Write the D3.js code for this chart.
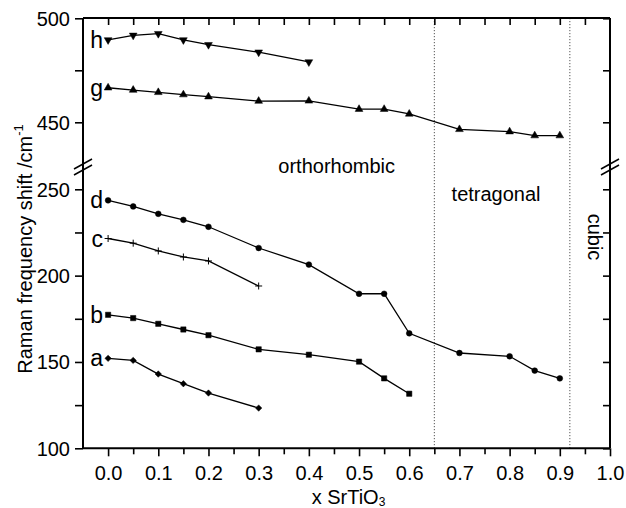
<!DOCTYPE html>
<html><head><meta charset="utf-8">
<script src="https://cdn.jsdelivr.net/npm/d3@7"></script>
<style>
body{margin:0;background:#fff;}
text{font-family:"Liberation Sans",Arial,Helvetica,sans-serif;fill:#000;}
</style></head>
<body><svg id="c" width="626" height="508"></svg>
<script>
// ---- data ----
const xA = [0, 0.05, 0.1, 0.15, 0.2, 0.3];
const yA = [152.1, 150.9, 143.0, 137.4, 132.0, 123.3];
const xB = [0, 0.05, 0.1, 0.15, 0.2, 0.3, 0.4, 0.5, 0.55, 0.6];
const yB = [177.3, 175.4, 172.1, 168.8, 165.5, 157.3, 154.2, 150.2, 140.5, 131.6];
const xC = [0, 0.05, 0.1, 0.15, 0.2, 0.3];
const yC = [221.5, 218.8, 214.3, 210.8, 208.5, 194.0];
const xD = [0, 0.05, 0.1, 0.15, 0.2, 0.3, 0.4, 0.5, 0.55, 0.6, 0.7, 0.8, 0.85, 0.9];
const yD = [243.6, 240.1, 235.8, 232.3, 228.3, 216.0, 206.4, 189.5, 189.5, 166.6, 155.2, 153.3, 145.0, 140.5];
const xG = [0, 0.05, 0.1, 0.15, 0.2, 0.3, 0.4, 0.5, 0.55, 0.6, 0.7, 0.8, 0.85, 0.9];
const yG = [466.6, 465.5, 464.4, 463.3, 462.3, 460.2, 460.3, 456.3, 456.3, 454.0, 446.6, 445.5, 443.6, 443.6];
const xH = [0, 0.05, 0.1, 0.15, 0.2, 0.3, 0.4];
const yH = [489.6, 491.8, 492.6, 489.6, 487.3, 483.7, 479.0];
const seriesNames = ["a", "b", "c", "d", "g", "h"];
const xTickLabels = ["0.0","0.1","0.2","0.3","0.4","0.5","0.6","0.7","0.8","0.9","1.0"];
const yLowTicks = [100, 150, 200, 250];
const yHighTicks = [450, 500];
const phaseBounds = [0.65, 0.92];
const phaseNames = ["orthorhombic", "tetragonal", "cubic"];

// ---- layout ----
const svg = d3.select("#c");
const L = 83, R = 610, T = 18, B = 448.3;
const x = d3.scaleLinear().domain([-0.05, 1.0]).range([L, R]);
const yLow = d3.scaleLinear().domain([100, 250]).range([448.3, 189.3]);
const yHigh = d3.scaleLinear().domain([450, 500]).range([122.3, 18.3]);
const breakY = 167;

const series = [
  {name: seriesNames[0], xs: xA, ys: yA, y: yLow, sym: "diamond"},
  {name: seriesNames[1], xs: xB, ys: yB, y: yLow, sym: "square"},
  {name: seriesNames[2], xs: xC, ys: yC, y: yLow, sym: "plus"},
  {name: seriesNames[3], xs: xD, ys: yD, y: yLow, sym: "circle"},
  {name: seriesNames[4], xs: xG, ys: yG, y: yHigh, sym: "up"},
  {name: seriesNames[5], xs: xH, ys: yH, y: yHigh, sym: "down"},
];

// phase boundaries (dotted)
svg.selectAll("line.phase").data(phaseBounds).join("line")
  .attr("x1", d => x(d)).attr("x2", d => x(d)).attr("y1", T).attr("y2", B)
  .attr("stroke", "#555").attr("stroke-width", 1).attr("stroke-dasharray", "1.2,1.8");

// axes
const ax = svg.append("g");
const xMinor = d3.range(0, 21).map(i => i * 0.05);
const bottomAxis = d3.axisBottom(x).tickValues(xMinor).tickSize(7).tickFormat((d, i) => i % 2 === 0 ? xTickLabels[i / 2] : "");
const gB = ax.append("g").attr("transform", `translate(0,${B})`).call(bottomAxis);
gB.selectAll(".tick line").attr("y2", (d, i) => i % 2 === 0 ? 8 : 6);
gB.selectAll("text").attr("font-size", 20).attr("dy", null).attr("y", 32);
const topAxis = d3.axisTop(x).tickValues(xMinor.filter(d => d < 0.99)).tickSize(-7).tickFormat("");
ax.append("g").attr("transform", `translate(0,${T})`).call(topAxis);

const leftLow = d3.axisLeft(yLow).tickValues(d3.range(100, 251, 25)).tickSize(8)
  .tickFormat(d => yLowTicks.includes(d) ? d : "");
const gLL = ax.append("g").attr("transform", `translate(${L},0)`).call(leftLow);
const leftHigh = d3.axisLeft(yHigh).tickValues([450, 475, 500]).tickSize(8)
  .tickFormat(d => yHighTicks.includes(d) ? d : "");
const gLH = ax.append("g").attr("transform", `translate(${L},0)`).call(leftHigh);
[gLL, gLH].forEach(g => {
  g.selectAll("text").attr("font-size", 20).attr("x", -13).attr("dy", "0.35em");
});
const rightLow = d3.axisRight(yLow).tickValues(d3.range(100, 251, 25)).tickSize(-7).tickFormat("");
ax.append("g").attr("transform", `translate(${R},0)`).call(rightLow);
const rightHigh = d3.axisRight(yHigh).tickValues([450, 475, 500]).tickSize(-7).tickFormat("");
ax.append("g").attr("transform", `translate(${R},0)`).call(rightHigh);

ax.selectAll(".domain").remove();
ax.selectAll(".tick line").attr("stroke", "#000").attr("stroke-width", 1.6);

// frame lines
const frame = svg.append("g").attr("stroke", "#000").attr("stroke-width", 2).attr("fill", "none");
frame.append("line").attr("x1", L).attr("x2", R).attr("y1", B).attr("y2", B);
frame.append("line").attr("x1", L).attr("x2", R).attr("y1", T).attr("y2", T);
frame.append("line").attr("x1", L).attr("x2", L).attr("y1", T).attr("y2", B);
frame.append("line").attr("x1", R).attr("x2", R).attr("y1", T).attr("y2", B);
[L, R].forEach(bx => {
  [-3, 3].forEach(off => {
    frame.append("line").attr("x1", bx - 9).attr("y1", breakY + off + 5)
      .attr("x2", bx + 9).attr("y2", breakY + off - 5).attr("stroke-width", 1.5);
  });
});

// series
const symPath = {
  circle: d3.symbol(d3.symbolCircle, 26)(),
  square: d3.symbol(d3.symbolSquare, 28)(),
  diamond: d3.symbol(d3.symbolDiamond2, 26)(),
  up: d3.symbol(d3.symbolTriangle, 26)(),
  down: d3.symbol(d3.symbolTriangle, 26)(),
  plus: "M-3.5,0H3.5M0,-3.5V3.5"
};
series.forEach(s => {
  const pts = s.xs.map((xv, i) => [x(xv), s.y(s.ys[i])]);
  svg.append("path").attr("d", d3.line()(pts)).attr("fill", "none")
    .attr("stroke", "#000").attr("stroke-width", 1.3);
  svg.append("g").selectAll("path").data(pts).join("path")
    .attr("d", symPath[s.sym])
    .attr("transform", d => `translate(${d[0]},${d[1]})` + (s.sym === "down" ? " rotate(180)" : ""))
    .attr("fill", s.sym === "plus" ? "none" : "#000")
    .attr("stroke", "#000").attr("stroke-width", s.sym === "plus" ? 1 : 0.5);
  svg.append("text").attr("x", x(s.xs[0]) - 5).attr("y", s.y(s.ys[0]) + 8)
    .attr("text-anchor", "end").attr("font-size", 23).text(s.name);
});

// phase labels
svg.append("text").attr("x", (x(-0.05) + x(0.65)) / 2 + 78).attr("y", 173)
  .attr("font-size", 20).attr("text-anchor", "middle").text(phaseNames[0]);
svg.append("text").attr("x", (x(0.65) + x(0.92)) / 2 - 6).attr("y", 201)
  .attr("font-size", 20).attr("text-anchor", "middle").text(phaseNames[1]);
svg.append("text").attr("transform", `translate(${(x(0.92) + x(1.0)) / 2 - 2},237) rotate(90)`)
  .attr("font-size", 20).attr("text-anchor", "middle").text(phaseNames[2]);

// axis titles
const yt = svg.append("text").attr("transform", "translate(32,249) rotate(-90)")
  .attr("font-size", 20).attr("text-anchor", "middle");
yt.append("tspan").text("Raman frequency shift /cm");
yt.append("tspan").attr("font-size", 13).attr("dy", -9).text("-1");

const xt = svg.append("text").attr("x", (L + R) / 2 + 2).attr("y", 504)
  .attr("font-size", 20).attr("text-anchor", "middle");
xt.append("tspan").text("x SrTiO");
xt.append("tspan").attr("font-size", 12).attr("dy", 2).text("3");
</script></body></html>
